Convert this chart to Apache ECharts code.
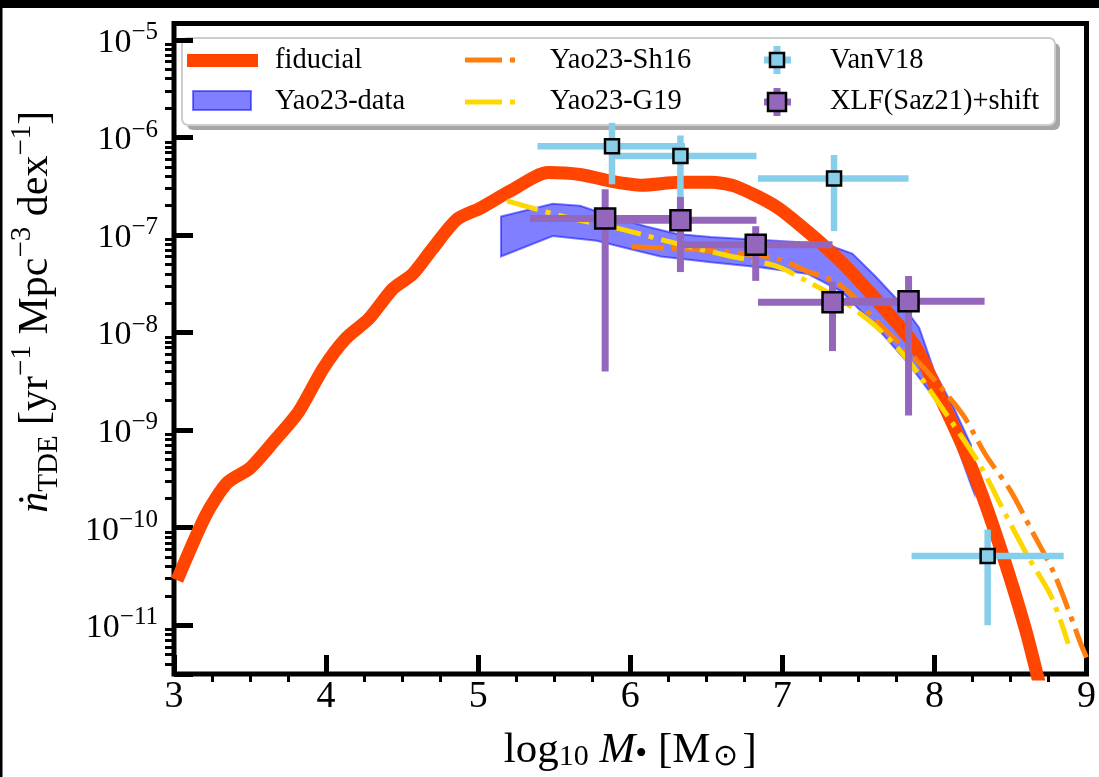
<!DOCTYPE html>
<html>
<head>
<meta charset="utf-8">
<script src="https://cdn.jsdelivr.net/npm/echarts@6/dist/echarts.min.js"></script>
<style>
html, body {margin: 0; padding: 0; background: #fff;}
#chart {width: 1099px; height: 777px;}
</style>
</head>
<body>
<div id="chart"></div>
<script>
// values: x = log10 M, y = log10 rate
const fiducialX = [3.02, 3.21, 3.35, 3.50, 3.66, 3.82, 3.98, 4.13, 4.28, 4.44, 4.57, 4.70, 4.86, 5.02, 5.21, 5.46, 5.67, 5.88, 6.08, 6.32, 6.53, 6.69, 6.96, 7.17, 7.39, 7.61, 7.87, 8.04, 8.19, 8.32, 8.47, 8.60, 8.69];
const fiducialLog = [-10.54, -9.87, -9.54, -9.39, -9.11, -8.81, -8.37, -8.06, -7.86, -7.55, -7.40, -7.14, -6.84, -6.72, -6.55, -6.36, -6.38, -6.45, -6.49, -6.46, -6.46, -6.50, -6.71, -6.97, -7.28, -7.65, -8.13, -8.67, -9.18, -9.69, -10.38, -11.05, -11.60];

const bandUpperX = [5.15, 5.49, 5.67, 5.88, 6.10, 6.31, 6.53, 6.75, 6.96, 7.28, 7.46, 7.61, 7.79, 7.90, 8.00, 8.13, 8.24, 8.26];
const bandUpperLog = [-6.81, -6.68, -6.70, -6.81, -6.91, -6.99, -7.02, -7.04, -7.06, -7.09, -7.19, -7.42, -7.72, -7.95, -8.40, -8.78, -9.15, -9.64];
const bandLowerX = [5.15, 5.49, 5.78, 5.99, 6.20, 6.53, 6.85, 7.17, 7.39, 7.61, 7.82, 8.00, 8.13, 8.24, 8.26];
const bandLowerLog = [-7.22, -7.01, -7.06, -7.14, -7.22, -7.28, -7.33, -7.40, -7.58, -7.93, -8.30, -8.67, -9.08, -9.56, -9.64];

const sh16X = [6.01, 6.53, 6.96, 7.16, 7.35, 7.46, 7.65, 7.85, 8.03, 8.19, 8.34, 8.50, 8.64, 8.79, 8.97, 9.00];
const sh16Log = [-7.12, -7.16, -7.24, -7.37, -7.48, -7.62, -7.93, -8.23, -8.54, -8.85, -9.26, -9.62, -10.03, -10.48, -11.22, -11.33];

const g19X = [5.19, 5.56, 5.94, 6.31, 6.64, 6.96, 7.17, 7.39, 7.61, 7.82, 8.11, 8.30, 8.47, 8.62, 8.77, 8.88];
const g19Log = [-6.65, -6.81, -6.94, -7.09, -7.21, -7.32, -7.48, -7.67, -7.93, -8.27, -8.91, -9.36, -9.87, -10.31, -10.71, -11.19];

const vanX = [5.88, 6.33, 7.34, 8.35];
const vanLog = [-6.09, -6.19, -6.42, -10.29];
const vanXlo = [5.39, 5.86, 6.84, 7.85];
const vanXhi = [6.36, 6.83, 7.83, 8.85];
const vanLogLo = [-6.48, -6.70, -6.96, -11.00];
const vanLogHi = [-5.85, -5.98, -6.18, -10.02];

const xlfX = [5.835, 6.33, 6.825, 7.33, 7.83];
const xlfLog = [-6.83, -6.85, -7.10, -7.69, -7.68];
const xlfXlo = [5.34, 5.83, 6.33, 6.84, 7.33];
const xlfXhi = [6.34, 6.83, 7.33, 7.83, 8.33];
const xlfLogLo = [-8.40, -7.38, -7.47, -8.19, -8.85];
const xlfLogHi = [-6.53, -6.61, -6.91, -7.48, -7.42];

const xMin = 3, xMax = 9;
const yLogMin = -11.5, yLogMax = -4.832;

const FONT = "'Liberation Serif', 'Times New Roman', serif";
const C_FID = '#ff4500', C_BAND = 'rgba(0,0,255,0.5)', C_SH = '#ff7f0e', C_G19 = '#ffd700';
const C_VAN = '#87ceeb', C_XLF = '#9467bd';

function pairs(xs, logs) {
    return xs.map(function (x, i) { return [x, Math.pow(10, logs[i])]; });
}
function errRows(xs, logs, xlo, xhi, lo, hi) {
    return xs.map(function (x, i) {
        return [x, Math.pow(10, logs[i]), xlo[i], xhi[i], Math.pow(10, lo[i]), Math.pow(10, hi[i])];
    });
}

// polygon of the band: upper edge then lower edge reversed
let bandPts = pairs(bandUpperX, bandUpperLog).concat(pairs(bandLowerX, bandLowerLog).reverse());

// minor ticks for the log axis (2..9 in each decade)
let minorLog = [];
for (let n = -12; n <= -5; n++) {
    for (let k = 2; k <= 9; k++) {
        let v = n + Math.log10(k);
        if (v > yLogMin && v < yLogMax) minorLog.push(v);
    }
}

function errRender(width, color) {
    return function (params, api) {
        let x = api.value(0), y = api.value(1);
        let l = api.coord([api.value(2), y]);
        let r = api.coord([api.value(3), y]);
        let b = api.coord([x, api.value(4)]);
        let t = api.coord([x, api.value(5)]);
        return {
            type: 'group',
            children: [
                {type: 'line', shape: {x1: l[0], y1: l[1], x2: r[0], y2: r[1]}, style: {stroke: color, lineWidth: width}},
                {type: 'line', shape: {x1: b[0], y1: b[1], x2: t[0], y2: t[1]}, style: {stroke: color, lineWidth: width}}
            ]
        };
    };
}

function legendText(text, x, y) {
    return {type: 'text', x: x, y: y, style: {text: text, fontFamily: FONT, fontSize: 28.5, fill: '#000', verticalAlign: 'middle'}};
}

let legendGroup = {
    type: 'group',
    z: 100,
    children: [
        {type: 'rect', shape: {x: 187, y: 43, width: 873, height: 87, r: 6}, style: {fill: 'rgba(0,0,0,0.35)'}},
        {type: 'rect', shape: {x: 182, y: 38, width: 873, height: 87, r: 6}, style: {fill: '#fff', stroke: '#cccccc', lineWidth: 2}},
        {type: 'rect', shape: {x: 187, y: 54, width: 71, height: 13}, style: {fill: C_FID}},
        legendText('fiducial', 275, 61),
        {type: 'rect', shape: {x: 193, y: 91, width: 58, height: 19}, style: {fill: C_BAND, stroke: C_BAND, lineWidth: 2}},
        legendText('Yao23-data', 275, 102),
        {type: 'line', shape: {x1: 465, y1: 60, x2: 515, y2: 60}, style: {stroke: C_SH, lineWidth: 5, lineDash: [37, 8, 5, 8]}},
        legendText('Yao23-Sh16', 550, 61),
        {type: 'line', shape: {x1: 465, y1: 102, x2: 515, y2: 102}, style: {stroke: C_G19, lineWidth: 5, lineDash: [37, 8, 5, 8]}},
        legendText('Yao23-G19', 550, 102),
        {type: 'line', shape: {x1: 764, y1: 60, x2: 791, y2: 60}, style: {stroke: C_VAN, lineWidth: 7}},
        {type: 'line', shape: {x1: 777, y1: 46, x2: 777, y2: 74}, style: {stroke: C_VAN, lineWidth: 7}},
        {type: 'rect', shape: {x: 770, y: 53, width: 14, height: 14}, style: {fill: C_VAN, stroke: '#000', lineWidth: 2.5}},
        legendText('VanV18', 830, 61),
        {type: 'line', shape: {x1: 764, y1: 102, x2: 791, y2: 102}, style: {stroke: C_XLF, lineWidth: 7}},
        {type: 'line', shape: {x1: 777, y1: 88, x2: 777, y2: 116}, style: {stroke: C_XLF, lineWidth: 7}},
        {type: 'rect', shape: {x: 768, y: 93, width: 18, height: 18}, style: {fill: C_XLF, stroke: '#000', lineWidth: 2.5}},
        legendText('XLF(Saz21)+shift', 830, 102)
    ]
};

let chart = echarts.init(document.getElementById('chart'), null, {renderer: 'canvas'});

let option = {
    animation: false,
    backgroundColor: '#fff',
    grid: {left: 169, right: 4.5, top: 23.5, bottom: 99, show: true, borderColor: '#000', borderWidth: 5, backgroundColor: 'transparent'},
    xAxis: [
        {
            type: 'value', min: xMin, max: xMax, interval: 1, position: 'bottom',
            axisLine: {show: false, onZero: false},
            axisTick: {show: true, inside: true, length: 19, lineStyle: {color: '#000', width: 5}},
            splitLine: {show: false},
            axisLabel: {color: '#000', fontFamily: FONT, fontSize: 38, margin: 4},
            name: '{n|log}{sub|10}{n| }{i|M}{b|•}{n| [M}{o|⊙}{n|]}',
            nameLocation: 'middle',
            nameGap: 48,
            nameTextStyle: {
                color: '#000',
                rich: {
                    n: {fontFamily: FONT, fontSize: 43, lineHeight: 50, verticalAlign: 'bottom', color: '#000'},
                    i: {fontFamily: FONT, fontStyle: 'italic', fontSize: 43, lineHeight: 50, verticalAlign: 'bottom', color: '#000'},
                    sub: {fontFamily: FONT, fontSize: 30, lineHeight: 33, verticalAlign: 'bottom', color: '#000'},
                    b: {fontFamily: FONT, fontSize: 34, lineHeight: 34, verticalAlign: 'bottom', color: '#000'},
                    o: {fontFamily: FONT, fontSize: 30, lineHeight: 40, verticalAlign: 'bottom', color: '#000', padding: [0, 4, 0, 3]}
                }
            }
        },
        {
            type: 'value', min: xMin, max: xMax, interval: 1, position: 'bottom',
            axisLine: {show: false, onZero: false},
            axisTick: {show: false, inside: false},
            axisLabel: {show: false},
            splitLine: {show: false},
            minorTick: {show: true, splitNumber: 4, length: 8, lineStyle: {color: '#000', width: 3}}
        }
    ],
    yAxis: [
        {
            type: 'log', min: Math.pow(10, yLogMin), max: Math.pow(10, yLogMax), position: 'left',
            axisLine: {show: false, onZero: false},
            axisTick: {show: true, inside: true, length: 19, lineStyle: {color: '#000', width: 5}},
            splitLine: {show: false},
            axisLabel: {
                margin: 16,
                formatter: function (v) {
                    let e = Math.log10(v);
                    let r = Math.round(e);
                    if (Math.abs(e - r) > 1e-6) return '';
                    return '{b|10}{s|−' + Math.abs(r) + '}';
                },
                rich: {
                    b: {fontFamily: FONT, fontSize: 34, lineHeight: 40, verticalAlign: 'bottom', color: '#000'},
                    s: {fontFamily: FONT, fontSize: 25, lineHeight: 24, verticalAlign: 'top', color: '#000'}
                }
            },
            name: '{i|ṅ}{sub|TDE}{n| [yr}{sup|−1}{n| Mpc}{sup|−3}{n| dex}{sup|−1}{n|]}',
            nameLocation: 'middle',
            nameRotate: 90,
            nameGap: 110,
            nameTextStyle: {
                color: '#000',
                padding: [0, 0, 0, 74],
                rich: {
                    n: {fontFamily: FONT, fontSize: 42, lineHeight: 56, verticalAlign: 'middle', color: '#000'},
                    i: {fontFamily: FONT, fontStyle: 'italic', fontSize: 42, lineHeight: 56, verticalAlign: 'middle', color: '#000'},
                    sub: {fontFamily: FONT, fontSize: 29, lineHeight: 30, verticalAlign: 'bottom', color: '#000'},
                    sup: {fontFamily: FONT, fontSize: 29, lineHeight: 30, verticalAlign: 'top', color: '#000'}
                }
            }
        },
        {
            type: 'value', min: yLogMin, max: yLogMax, position: 'left',
            axisLine: {show: false, onZero: false},
            axisTick: {show: true, inside: false, length: 9, customValues: minorLog, lineStyle: {color: '#000', width: 3}},
            axisLabel: {show: false},
            splitLine: {show: false}
        }
    ],
    graphic: [
        {type: 'rect', z: 100, shape: {x: 0, y: 0, width: 1099, height: 8}, style: {fill: '#000'}},
        {type: 'rect', z: 100, shape: {x: 0, y: 0, width: 2.5, height: 777}, style: {fill: '#000'}},
        legendGroup
    ],
    series: [
        {
            name: 'Yao23-data', type: 'custom', z: 1,
            renderItem: function (params, api) {
                if (params.dataIndex !== 0) return null;
                let pts = bandPts.map(function (p) { return api.coord(p); });
                return {type: 'polygon', shape: {points: pts}, style: {fill: C_BAND, stroke: C_BAND, lineWidth: 2}};
            },
            data: bandPts
        },
        {
            name: 'fiducial', type: 'line', z: 2, showSymbol: false, smooth: 0.25,
            lineStyle: {color: C_FID, width: 13, cap: 'butt', join: 'round'},
            data: pairs(fiducialX, fiducialLog)
        },
        {
            name: 'Yao23-Sh16', type: 'line', z: 3, showSymbol: false, smooth: 0.3,
            lineStyle: {color: C_SH, width: 5, type: [32, 8, 5, 8], cap: 'butt'},
            data: pairs(sh16X, sh16Log)
        },
        {
            name: 'Yao23-G19', type: 'line', z: 4, showSymbol: false, smooth: 0.3,
            lineStyle: {color: C_G19, width: 5, type: [32, 8, 5, 8], cap: 'butt'},
            data: pairs(g19X, g19Log)
        },
        {
            name: 'VanV18 err', type: 'custom', z: 5,
            renderItem: errRender(6.5, C_VAN),
            encode: {x: 0, y: 1},
            data: errRows(vanX, vanLog, vanXlo, vanXhi, vanLogLo, vanLogHi)
        },
        {
            name: 'VanV18', type: 'scatter', z: 6, symbol: 'rect', symbolSize: 14,
            itemStyle: {color: C_VAN, borderColor: '#000', borderWidth: 2.5, opacity: 1},
            data: pairs(vanX, vanLog)
        },
        {
            name: 'XLF err', type: 'custom', z: 7,
            renderItem: errRender(7, C_XLF),
            encode: {x: 0, y: 1},
            data: errRows(xlfX, xlfLog, xlfXlo, xlfXhi, xlfLogLo, xlfLogHi)
        },
        {
            name: 'XLF(Saz21)+shift', type: 'scatter', z: 8, symbol: 'rect', symbolSize: 20,
            itemStyle: {color: C_XLF, borderColor: '#000', borderWidth: 2.5, opacity: 1},
            data: pairs(xlfX, xlfLog)
        }
    ]
};

chart.setOption(option);
</script>
</body>
</html>
